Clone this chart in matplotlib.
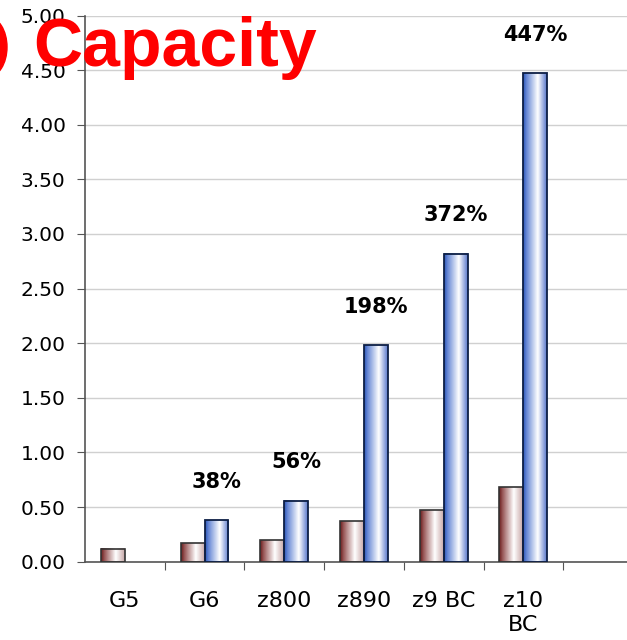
import numpy as np
import matplotlib
matplotlib.use("Agg")
import matplotlib.pyplot as plt
from matplotlib.colors import LinearSegmentedColormap
from matplotlib.patches import Ellipse

categories = ['G5', 'G6', 'z800', 'z890', 'z9 BC', 'z10\nBC']
brown_vals = [0.12, 0.17, 0.20, 0.37, 0.47, 0.68]
blue_vals = [None, 0.38, 0.56, 1.98, 2.82, 4.47]
pct_labels = [None, '38%', '56%', '198%', '372%', '447%']
yticks = [0.0, 0.5, 1.0, 1.5, 2.0, 2.5, 3.0, 3.5, 4.0, 4.5, 5.0]

W, H = 627, 640
fig = plt.figure(figsize=(W / 100, H / 100), dpi=100)
ax = fig.add_axes([85 / W, 78.3 / H, (W - 85) / W, 546.2 / H])

brown_cm = LinearSegmentedColormap.from_list(
    'brn', [(0.0, '#6a1c1c'), (0.15, '#9a5a5a'), (0.62, '#ffffff'), (1.0, '#c8a8a8')])
blue_cm = LinearSegmentedColormap.from_list(
    'blu', [(0.0, '#2a55b8'), (0.15, '#6a8ad6'), (0.62, '#ffffff'), (1.0, '#5a78cc')])
grad = np.linspace(0, 1, 64).reshape(1, -1)

bw = 0.3
for i, v in enumerate(brown_vals):
    ax.imshow(grad, cmap=brown_cm, aspect='auto', extent=(i - bw, i, 0, v),
              zorder=2, interpolation='bilinear')
    ax.bar(i - bw / 2, v, bw, fill=False, edgecolor='#333333', lw=1.2, zorder=3)
for i, v in enumerate(blue_vals):
    if v is None:
        continue
    ax.imshow(grad, cmap=blue_cm, aspect='auto', extent=(i, i + bw, 0, v),
              zorder=2, interpolation='bilinear')
    ax.bar(i + bw / 2, v, bw, fill=False, edgecolor='#0d1f45', lw=1.3, zorder=3)
    ax.annotate(pct_labels[i], (i + bw / 2, v), xytext=(0, 27.5),
                textcoords='offset points', ha='center', va='center',
                fontsize=15, fontweight='bold', color='black')

ax.set_yticks(yticks)
ax.set_yticklabels(['%.2f' % t for t in yticks])
ax.set_xticks(np.arange(0.5, 6, 1.0))
ax.set_xticklabels([])
ax.set_xticks(range(len(categories)), minor=True)
ax.set_xticklabels(categories, minor=True, fontsize=16, linespacing=1.25, va='top')
ax.set_xlim(-0.5, -0.5 + (W - 85) / 79.7)
ax.set_ylim(0, 5.0)
ax.tick_params(axis='x', which='major', direction='out', length=6, color='#555555')
ax.tick_params(axis='x', which='minor', length=0, pad=21)
ax.tick_params(axis='y', direction='out', length=6, color='#555555', labelsize=14.5, pad=8)

ax.grid(axis='y', color='#d0d0d0', lw=1.0, zorder=0)
ax.set_axisbelow(True)
for s in ['top', 'right']:
    ax.spines[s].set_visible(False)
for s in ['left', 'bottom']:
    ax.spines[s].set_color('#555555')
    ax.spines[s].set_linewidth(1.2)

fig.patches.append(Ellipse((-12 / W, 1 - 47 / H), 38 / W, 60 / H,
                           transform=fig.transFigure, color='#ff0000', zorder=5))
fig.text(33 / W, 1 - 66 / H, 'Capacity', fontsize=49, fontweight='bold',
         family='Liberation Sans', color='#ff0000', va='baseline', ha='left', zorder=6)

fig.savefig('out.png', dpi=100)
